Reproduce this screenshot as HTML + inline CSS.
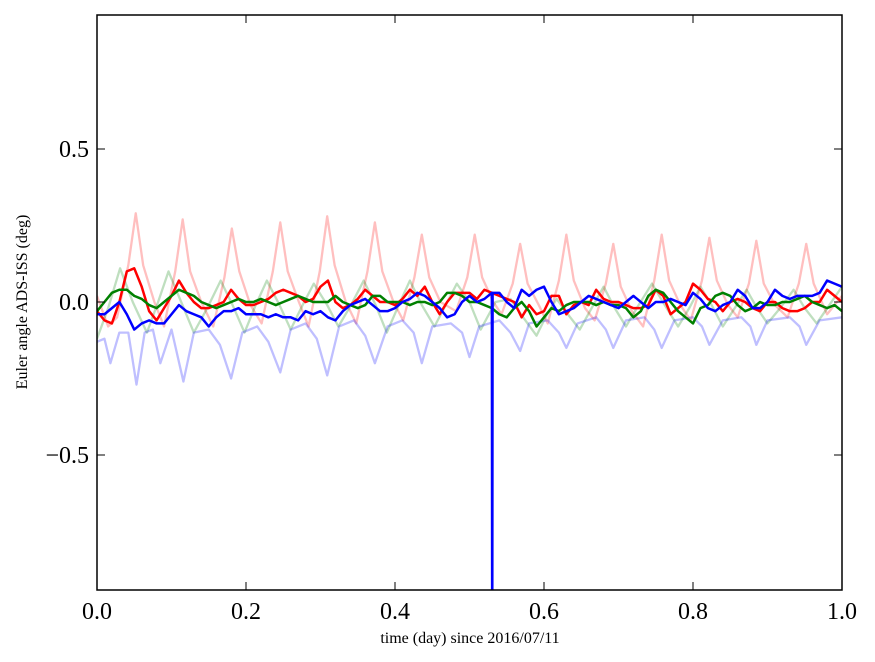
<!DOCTYPE html>
<html><head><meta charset="utf-8"><style>
body{margin:0;background:#fff;}
svg{display:block;font-family:"Liberation Serif",serif;}
</style></head><body>
<svg id="chart" width="875" height="662"></svg>
<script>
const xTicks=[0,0.2,0.4,0.6,0.8,1.0];
const xTickLabels=["0.0","0.2","0.4","0.6","0.8","1.0"];
const yTicks=[-0.5,0,0.5];
const yTickLabels=["\u22120.5","0.0","0.5"];
const times=[0,.01,.02,.03,.04,.05,.06,.07,.08,.09,.10,.11,.12,.13,.14,.15,.16,.17,.18,.19,.20,.21,.22,.23,.24,.25,.26,.27,.28,.29,.30,.31,.32,.33,.34,.35,.36,.37,.38,.39,.40,.41,.42,.43,.44,.45,.46,.47,.48,.49,.50,.51,.52,.53,.54,.55,.56,.57,.58,.59,.60,.61,.62,.63,.64,.65,.66,.67,.68,.69,.70,.71,.72,.73,.74,.75,.76,.77,.78,.79,.80,.81,.82,.83,.84,.85,.86,.87,.88,.89,.90,.91,.92,.93,.94,.95,.96,.97,.98,.99,1.0];
const redVals=[-0.03,-0.06,-0.07,0.0,0.1,0.11,0.05,-0.03,-0.06,-0.02,0.02,0.07,0.03,0,-0.02,-0.02,-0.01,0,0.04,0.01,-0.01,-0.01,0,0.01,0.03,0.04,0.03,0.02,0,0.01,0.05,0.07,0,-0.02,-0.01,0.01,0.04,0.02,0,0,-0.01,0.01,0.04,0.02,0.05,0,-0.04,0,0.03,0.03,0.03,0.01,0.04,0.03,0.02,0.01,0,-0.05,-0.01,-0.04,-0.03,0.02,0.02,-0.04,-0.01,0,-0.01,0.04,0.01,0,0,-0.01,-0.02,-0.02,-0.01,0.04,0.02,-0.04,-0.02,0,0.06,0.04,0.01,0,-0.03,0,0.01,0,-0.02,-0.03,0,0,-0.02,-0.03,-0.03,-0.02,0,0,0.04,0.02,0.0];
const greenVals=[-0.03,0,0.03,0.04,0.04,0.02,0.01,-0.01,-0.02,0,0.02,0.04,0.03,0.02,0,-0.01,-0.02,-0.01,0,0.01,0,0,0.01,0,-0.01,0,0.01,0.02,0.01,0,0,0,0.02,0,-0.01,-0.02,-0.01,0.02,0.02,0,0,0,-0.01,0,0,-0.01,0,0.03,0.03,0.02,0,0,-0.01,-0.02,-0.04,-0.05,-0.02,0,-0.03,-0.08,-0.05,-0.02,-0.03,-0.01,0,0,0,-0.01,0,-0.01,-0.01,-0.02,-0.05,-0.03,0.02,0.04,0.03,0,-0.03,-0.05,-0.07,-0.02,-0.01,0.02,0.03,0.02,-0.01,-0.03,-0.02,0,-0.01,-0.01,0,0,0.01,0.02,0,-0.01,-0.02,-0.01,-0.03];
const blueVals=[-0.04,-0.04,-0.02,0,-0.04,-0.09,-0.07,-0.06,-0.07,-0.07,-0.04,-0.01,-0.03,-0.04,-0.05,-0.08,-0.05,-0.03,-0.03,-0.02,-0.04,-0.04,-0.04,-0.05,-0.04,-0.05,-0.05,-0.06,-0.03,-0.04,-0.03,-0.05,-0.06,-0.03,-0.01,0,0.01,-0.01,-0.03,-0.03,-0.02,0,0.01,0.03,0.02,0,-0.02,-0.05,-0.04,0,0.02,0,0.01,0.03,0.03,0,-0.02,0.04,0.02,0.04,0.05,0,-0.04,-0.03,-0.02,0,0.02,0.01,0,-0.01,-0.02,0,0.02,0,-0.02,0,0,0.01,0,-0.01,0.03,0.01,-0.02,-0.03,-0.01,0,0.04,0.02,-0.02,-0.02,0,0.04,0.02,0.01,0.02,0.02,0.02,0.03,0.07,0.06,0.05];
const blueSpikeTimes=[0.5305,0.531];
const blueSpikeVals=[-1.2,0.03];
const pinkTimes=[0,0.015,0.027,0.042,0.052,0.062,0.077,0.09,0.105,0.115,0.125,0.14,0.156,0.171,0.181,0.191,0.206,0.221,0.236,0.246,0.256,0.271,0.284,0.299,0.309,0.319,0.334,0.348,0.363,0.373,0.383,0.398,0.411,0.426,0.436,0.446,0.461,0.482,0.497,0.507,0.517,0.532,0.543,0.558,0.568,0.578,0.593,0.605,0.62,0.63,0.64,0.655,0.668,0.683,0.693,0.703,0.718,0.733,0.748,0.758,0.768,0.783,0.797,0.812,0.822,0.832,0.847,0.86,0.875,0.885,0.895,0.91,0.927,0.942,0.952,0.962,0.98,1.0];
const pinkVals=[0.02,-0.08,-0.05,0.12,0.29,0.12,0.0,-0.08,0.1,0.27,0.1,0.0,-0.08,0.08,0.24,0.1,-0.01,-0.07,0.1,0.26,0.1,0.0,-0.08,0.1,0.28,0.12,0.0,-0.07,0.1,0.26,0.1,0.0,-0.06,0.08,0.22,0.08,0.0,-0.03,0.08,0.22,0.08,0.0,-0.04,0.06,0.19,0.06,-0.01,-0.07,0.07,0.22,0.07,-0.02,-0.06,0.06,0.19,0.05,-0.03,-0.08,0.07,0.22,0.07,-0.01,-0.06,0.07,0.21,0.07,-0.01,-0.05,0.06,0.2,0.06,-0.01,-0.05,0.06,0.19,0.06,-0.04,0.02];
const lgreenTimes=[0,0.015,0.031,0.048,0.067,0.082,0.096,0.113,0.13,0.148,0.166,0.182,0.198,0.213,0.228,0.245,0.26,0.276,0.291,0.309,0.324,0.341,0.358,0.374,0.389,0.405,0.42,0.436,0.453,0.468,0.483,0.5,0.515,0.535,0.555,0.572,0.59,0.604,0.617,0.632,0.648,0.664,0.68,0.695,0.71,0.727,0.745,0.762,0.78,0.795,0.81,0.825,0.84,0.856,0.872,0.886,0.9,0.917,0.935,0.95,0.966,0.983,1.0];
const lgreenVals=[-0.12,-0.02,0.11,0.0,-0.1,0.0,0.1,0.0,-0.1,-0.02,0.07,-0.01,-0.1,-0.01,0.07,-0.01,-0.09,-0.01,0.06,-0.01,-0.08,-0.01,0.07,-0.01,-0.1,-0.01,0.07,-0.01,-0.08,-0.01,0.06,0.0,-0.09,0.0,0.01,-0.05,-0.11,-0.04,0.01,-0.04,-0.09,-0.02,0.05,-0.02,-0.08,-0.01,0.06,-0.01,-0.08,-0.02,0.05,-0.01,-0.08,-0.02,0.04,-0.02,-0.07,-0.02,0.04,-0.02,-0.07,-0.01,0.05];
const lblueTimes=[0,0.01,0.018,0.03,0.042,0.053,0.064,0.075,0.085,0.1,0.116,0.13,0.15,0.165,0.18,0.195,0.215,0.23,0.246,0.26,0.28,0.295,0.309,0.325,0.345,0.36,0.373,0.39,0.41,0.425,0.436,0.45,0.475,0.49,0.5,0.513,0.54,0.555,0.568,0.58,0.605,0.62,0.63,0.645,0.67,0.683,0.693,0.71,0.735,0.748,0.758,0.775,0.8,0.812,0.822,0.84,0.865,0.877,0.885,0.9,0.93,0.943,0.952,0.97,1.0];
const lblueVals=[-0.13,-0.12,-0.2,-0.1,-0.1,-0.27,-0.1,-0.09,-0.2,-0.09,-0.26,-0.1,-0.09,-0.14,-0.25,-0.1,-0.08,-0.13,-0.23,-0.09,-0.07,-0.12,-0.24,-0.08,-0.06,-0.11,-0.2,-0.08,-0.06,-0.1,-0.2,-0.08,-0.07,-0.1,-0.18,-0.08,-0.06,-0.1,-0.16,-0.07,-0.06,-0.1,-0.15,-0.07,-0.05,-0.09,-0.15,-0.06,-0.05,-0.09,-0.15,-0.06,-0.05,-0.08,-0.14,-0.06,-0.05,-0.08,-0.14,-0.06,-0.05,-0.08,-0.14,-0.06,-0.05];

const L=97,R=842,T=15,B=590;
const xS=t=>L+(R-L)*t;
const yS=v=>302-306*v;
const NS='http://www.w3.org/2000/svg';
const svg=document.getElementById('chart');
function mk(tag,attrs,parent){const e=document.createElementNS(NS,tag);for(const k in attrs)e.setAttribute(k,attrs[k]);(parent||svg).appendChild(e);return e;}
const defs=mk('defs',{});
const cp=mk('clipPath',{id:'clip'},defs);
mk('rect',{x:L,y:T,width:R-L,height:B-T},cp);
const plot=mk('g',{'clip-path':'url(#clip)'});


function line(ts,vs,color,op,w,name){
  let d='';for(let i=0;i<ts.length;i++)d+=(i?'L':'M')+xS(ts[i]).toFixed(2)+' '+yS(vs[i]).toFixed(2);
  const p=mk('path',{d:d,fill:'none',stroke:color,'stroke-width':w,'stroke-opacity':op,'stroke-linejoin':'round'},plot);
  
  
}
line(pinkTimes,pinkVals,'#ff0000',0.25,2.3,'roll-reference-line');
line(lgreenTimes,lgreenVals,'#008000',0.25,2.3,'pitch-reference-line');
line(lblueTimes,lblueVals,'#0000ff',0.25,2.3,'yaw-reference-line');
line(times,redVals,'#ff0000',1,2.5,'roll-line');
line(times,greenVals,'#008000',1,2.5,'pitch-line');
const bt=[],bv=[];
for(let i=0;i<times.length;i++){bt.push(times[i]);bv.push(blueVals[i]);
  if(times[i]===0.53){for(let j=0;j<blueSpikeTimes.length;j++){bt.push(blueSpikeTimes[j]);bv.push(blueSpikeVals[j]);}}}
line(bt,bv,'#0000ff',1,2.5,'yaw-line');

const frame=mk('rect',{x:L,y:T,width:R-L,height:B-T,fill:'none',stroke:'#000','stroke-width':1.5});


xTicks.forEach((t,i)=>{
  const x=xS(t);
  mk('line',{x1:x,x2:x,y1:B,y2:B-8,stroke:'#000','stroke-width':1});
  mk('line',{x1:x,x2:x,y1:T,y2:T+8,stroke:'#000','stroke-width':1});
  const tx=mk('text',{x:x,y:B+29,'font-size':24,'text-anchor':'middle'});
  tx.textContent=xTickLabels[i];
  
  
});
yTicks.forEach((v,i)=>{
  const y=yS(v);
  mk('line',{x1:L,x2:L+8,y1:y,y2:y,stroke:'#000','stroke-width':1});
  mk('line',{x1:R,x2:R-8,y1:y,y2:y,stroke:'#000','stroke-width':1});
  const tx=mk('text',{x:L-8,y:y+8,'font-size':24,'text-anchor':'end'});
  tx.textContent=yTickLabels[i];
  
  
});
const xl=mk('text',{x:470,y:643,'font-size':16,'text-anchor':'middle'});
xl.textContent='time (day) since 2016/07/11';


const yl=mk('text',{x:0,y:0,'font-size':16,'text-anchor':'middle',transform:'translate(27,302) rotate(-90)'});
yl.textContent='Euler angle ADS-ISS (deg)';


</script>
</body></html>
